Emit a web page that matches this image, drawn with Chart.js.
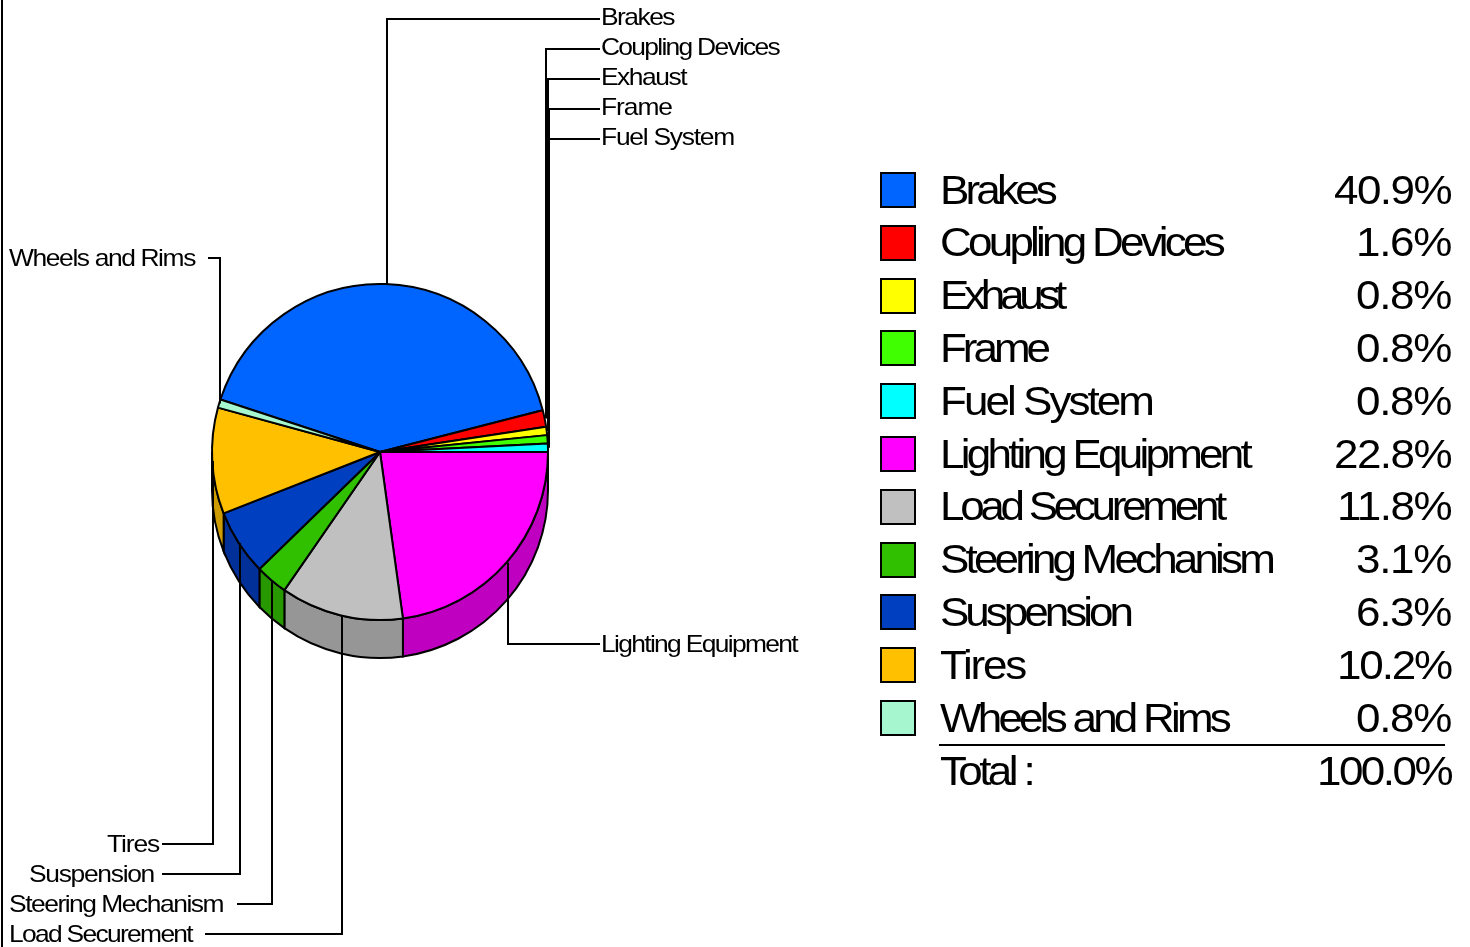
<!DOCTYPE html>
<html>
<head>
<meta charset="utf-8">
<style>
	html, body { margin: 0; padding: 0; background: #fff; }
	canvas { display: block; }
</style>
<script src="https://cdn.jsdelivr.net/npm/chart.js@4"></script>
</head>
<body>
<canvas id="pie" width="1470" height="947"></canvas>
<script>
const categories = ['Brakes', 'Coupling Devices', 'Exhaust', 'Frame', 'Fuel System', 'Lighting Equipment', 'Load Securement', 'Steering Mechanism', 'Suspension', 'Tires', 'Wheels and Rims']
const percents = [40.9, 1.6, 0.8, 0.8, 0.8, 22.8, 11.8, 3.1, 6.3, 10.2, 0.8]
const totalLabel = 'Total :'
const totalText = '100.0%'
const faceColors = ['#0064ff', '#ff0000', '#ffff00', '#40ff00', '#00ffff', '#ff00ff', '#c0c0c0', '#30c000', '#0040c0', '#ffc000', '#a6f7cf']
const sideColors = ['#004bbf', '#bf0000', '#bfbf00', '#30bf00', '#00bfbf', '#c000c0', '#969696', '#289800', '#003098', '#cc9c00', '#7cb99b']

// Label placement around the pie: [line end x, line y, text x, text baseline, text width]
const leaders = [
	[600, 19, 601, 25, 73],
	[600, 49, 601, 55, 178],
	[600, 79, 601, 85, 85],
	[600, 109, 601, 115, 71],
	[600, 139, 601, 145, 133],
	[600, 644, 601, 652, 196],
	[205, 934, 9, 942, 183],
	[237, 904, 9, 912, 214],
	[162, 874, 29, 882, 125],
	[162, 844, 107, 852, 52],
	[208, 258, 9, 266, 186],
]
// legend text widths, the original font sits tighter than Liberation
const legendNameWidths = [114, 282, 122, 107, 212, 309, 283, 332, 190, 85, 288]
const legendValueWidths = [117, 95, 95, 95, 95, 117, 114, 95, 95, 114, 95]

const depth = 38
const stretch = 1.1
const fontName = '"Liberation Sans", Arial, sans-serif'

// the Lighting Equipment slice starts at 3 o'clock
const total = percents.reduce((a, b) => a + b, 0)
const startRotation = 90 - percents.slice(0, 5).reduce((a, b) => a + b, 0) / total * 360

function arcInfo(chart, i) {
	return chart.getDatasetMeta(0).data[i].getProps(['x', 'y', 'startAngle', 'endAngle', 'outerRadius'], true)
}

// draws text widened a bit and squeezed back to the wanted width
function fitText(ctx, text, x, y, width) {
	ctx.save()
	ctx.letterSpacing = '0px'
	const natural = ctx.measureText(text).width
	ctx.translate(x, y)
	ctx.scale(stretch, 1)
	ctx.letterSpacing = (width / stretch - natural) / text.length + 'px'
	ctx.textAlign = 'left'
	ctx.fillText(text, 0, 0)
	ctx.restore()
}

// extruded wall below the pie, built from the arc elements
const sideWall = {
	id: 'sideWall',
	beforeDatasetsDraw(chart) {
		const ctx = chart.ctx
		ctx.save()
		ctx.lineWidth = 2
		ctx.strokeStyle = '#000'
		percents.forEach((v, i) => {
			const a = arcInfo(chart, i)
			// visible part of the wall runs between 0 and PI in canvas angles
			for (const shift of [0, -2 * Math.PI, 2 * Math.PI]) {
				const from = Math.max(a.startAngle + shift, 0)
				const to = Math.min(a.endAngle + shift, Math.PI)
				if (to <= from) continue
				ctx.beginPath()
				ctx.arc(a.x, a.y, a.outerRadius, from, to)
				ctx.arc(a.x, a.y + depth, a.outerRadius, to, from, true)
				ctx.closePath()
				ctx.fillStyle = sideColors[i]
				ctx.fill()
				ctx.stroke()
			}
		})
		ctx.restore()
	},
}

const labelsAndLegend = {
	id: 'labelsAndLegend',
	afterDatasetsDraw(chart) {
		const ctx = chart.ctx
		ctx.save()

		// frame line on the left edge
		ctx.fillStyle = '#000'
		ctx.fillRect(1, 0, 2, 947)

		// leader lines
		ctx.strokeStyle = '#000'
		ctx.lineWidth = 2
		ctx.font = '24px ' + fontName
		ctx.textBaseline = 'alphabetic'
		categories.forEach((name, i) => {
			const a = arcInfo(chart, i)
			const mid = (a.startAngle + a.endAngle) / 2
			const px = Math.round(a.x + a.outerRadius * Math.cos(mid)) + 1
			const py = a.y + a.outerRadius * Math.sin(mid)
			const [edge, ly, tx, ty, tw] = leaders[i]
			ctx.beginPath()
			ctx.moveTo(px, py)
			ctx.lineTo(px, ly)
			ctx.lineTo(edge, ly)
			ctx.stroke()
			fitText(ctx, name, tx, ty, tw)
		})

		// legend table
		ctx.font = '40px ' + fontName
		categories.forEach((name, i) => {
			const cy = 190 + 52.8 * i
			ctx.fillStyle = faceColors[i]
			ctx.fillRect(881, Math.round(cy) - 17, 34, 34)
			ctx.strokeRect(881, Math.round(cy) - 17, 34, 34)
			ctx.fillStyle = '#000'
			fitText(ctx, name, 940, Math.round(cy + 13.5), legendNameWidths[i])
			fitText(ctx, percents[i].toFixed(1) + '%', 1451 - legendValueWidths[i], Math.round(cy + 13.5), legendValueWidths[i])
		})
		ctx.fillRect(939, 744, 506, 2)
		fitText(ctx, totalLabel, 940, 785, 92)
		fitText(ctx, totalText, 1317, 785, 134)
		ctx.restore()
	},
}

new Chart(document.getElementById('pie'), {
	type: 'pie',
	data: {
		labels: categories,
		datasets: [
			{
				data: percents,
				backgroundColor: faceColors,
				borderColor: '#000',
				borderWidth: 2,
			},
		],
	},
	options: {
		responsive: false,
		animation: false,
		rotation: startRotation,
		layout: {
			padding: { left: 211, right: 921, top: 283, bottom: 326 },
		},
		plugins: {
			legend: { display: false },
			tooltip: { enabled: false },
		},
	},
	plugins: [sideWall, labelsAndLegend],
})
</script>
</body>
</html>
